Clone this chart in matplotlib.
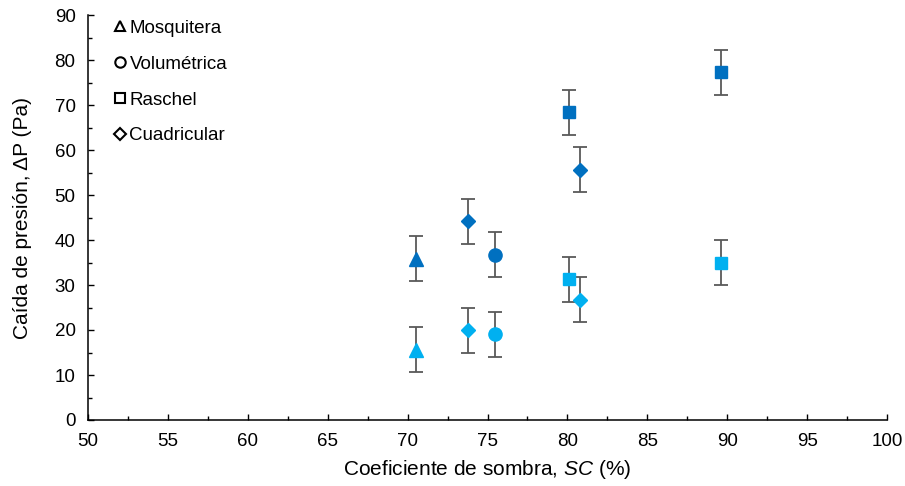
import matplotlib.pyplot as plt
from matplotlib.lines import Line2D
from matplotlib.ticker import MultipleLocator

plt.rcParams['font.family'] = ['Liberation Sans', 'DejaVu Sans']
plt.rcParams['mathtext.fontset'] = 'custom'
plt.rcParams['mathtext.it'] = 'Liberation Sans:italic'
plt.rcParams['mathtext.rm'] = 'Liberation Sans'

# Data: shade coefficient (%) vs pressure drop (Pa)
mesh_types = ['Mosquitera', 'Volumétrica', 'Raschel', 'Cuadricular']
mesh_markers = ['^', 'o', 's', 'D']
sc_values = [[70.5], [75.5], [80.1, 89.6], [73.8, 80.8]]
dp_dark = [[35.8], [36.7], [68.4, 77.3], [44.2, 55.6]]
dp_light = [[15.6], [19.1], [31.3, 34.9], [20.0, 26.7]]
dp_error = 5.0

dark_color = '#0070C0'
light_color = '#00B0F0'
err_color = '#595959'

fig, ax = plt.subplots(figsize=(9.05, 4.86), dpi=100)
fig.subplots_adjust(left=88 / 905, right=887 / 905, bottom=66 / 486, top=471 / 486)

marker_sizes = {'^': 9.5, 'o': 9.5, 's': 9, 'D': 7}
for marker, xs, yd, yl in zip(mesh_markers, sc_values, dp_dark, dp_light):
    for ys, col in ((yd, dark_color), (yl, light_color)):
        ax.errorbar(xs, ys, yerr=dp_error, fmt=marker, color=col,
                    ms=marker_sizes[marker], mec=col, ecolor=err_color,
                    elinewidth=1.3, capsize=5, capthick=1.3, zorder=3)

ax.set_xlim(50, 100)
ax.set_ylim(0, 90)
ax.xaxis.set_major_locator(MultipleLocator(5))
ax.xaxis.set_minor_locator(MultipleLocator(2.5))
ax.yaxis.set_major_locator(MultipleLocator(10))
ax.yaxis.set_minor_locator(MultipleLocator(5))
ax.tick_params(which='both', direction='in', width=1, color='black',
               labelsize=13.5, length=4)
ax.tick_params(which='minor', length=3)
ax.tick_params(axis='x', pad=9)
ax.tick_params(axis='y', pad=9)
for side in ('top', 'right'):
    ax.spines[side].set_visible(False)
for side in ('left', 'bottom'):
    ax.spines[side].set_linewidth(1.1)

ax.set_xlabel(r'Coeficiente de sombra, $\it{SC}$ (%)', fontsize=15, labelpad=6)
ax.set_ylabel('Caída de presión, ΔP (Pa)', fontsize=15, labelpad=16)

handles = [Line2D([], [], ls='none', marker=m, mfc='white', mec='black',
                  mew=1.5, ms=6 if m == 'D' else 7.5) for m in mesh_markers]
ax.legend(handles, mesh_types, loc='upper left', bbox_to_anchor=(0.012, 1.03),
          frameon=False, fontsize=13.5, handlelength=0.6, handletextpad=0.2,
          labelspacing=1.0)

plt.savefig('out.png', dpi=100)
